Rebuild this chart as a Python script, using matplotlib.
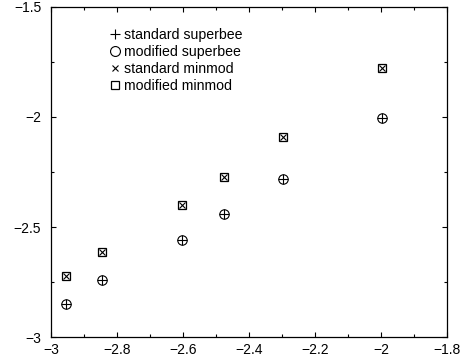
import matplotlib
matplotlib.use('Agg')
import matplotlib.pyplot as plt
from matplotlib.ticker import MultipleLocator

plt.rcParams['font.family'] = ['Liberation Sans', 'DejaVu Sans']

# x positions shared by all schemes
log_h = [-2.955, -2.845, -2.602, -2.476, -2.298, -1.996]
superbee_std = [-2.848, -2.739, -2.557, -2.441, -2.282, -2.006]
superbee_mod = [-2.848, -2.739, -2.557, -2.441, -2.282, -2.006]
minmod_std = [-2.724, -2.614, -2.399, -2.274, -2.089, -1.778]
minmod_mod = [-2.724, -2.614, -2.399, -2.274, -2.089, -1.778]

labels = ['standard superbee', 'modified superbee', 'standard minmod', 'modified minmod']


def fmt(v, p):
    return ('%g' % round(v, 2)).replace('-', '\u2212')


def main():
    fig = plt.figure(figsize=(4.61, 3.62), dpi=100)
    ax = fig.add_axes([0.1106, 0.069, 0.859, 0.9117])

    ax.plot(log_h, superbee_std, ls='none', marker='+', ms=7, mew=0.8, color='black', label=labels[0])
    ax.plot(log_h, superbee_mod, ls='none', marker='o', ms=6.8, mew=0.8, mfc='none', color='black', label=labels[1])
    ax.plot(log_h, minmod_std, ls='none', marker='x', ms=4.3, mew=0.8, color='black', label=labels[2])
    ax.plot(log_h, minmod_mod, ls='none', marker='s', ms=6, mew=0.9, mfc='none', color='black', label=labels[3])

    ax.set_xlim(-3, -1.8)
    ax.set_ylim(-3, -1.5)
    ax.xaxis.set_major_locator(MultipleLocator(0.2))
    ax.xaxis.set_minor_locator(MultipleLocator(0.1))
    ax.yaxis.set_major_locator(MultipleLocator(0.5))
    ax.yaxis.set_minor_locator(MultipleLocator(0.25))
    ax.xaxis.set_major_formatter(plt.FuncFormatter(fmt))
    ax.yaxis.set_major_formatter(plt.FuncFormatter(fmt))
    ax.tick_params(which='both', direction='in', top=True, right=True, labelsize=10, width=0.8)
    ax.tick_params(which='major', length=3.6)
    ax.tick_params(which='minor', length=2)
    ax.tick_params(axis='y', which='major', pad=7)
    ax.tick_params(axis='x', which='major', pad=4)
    for s in ax.spines.values():
        s.set_linewidth(0.9)

    ax.legend(loc='upper left', bbox_to_anchor=(0.125, 0.965), frameon=False, fontsize=10.2,
              handlelength=0.6, handletextpad=0.35, labelspacing=0.2, borderpad=0.2,
              markerscale=1.05)

    fig.savefig('out.png', dpi=100)


if __name__ == '__main__':
    main()
